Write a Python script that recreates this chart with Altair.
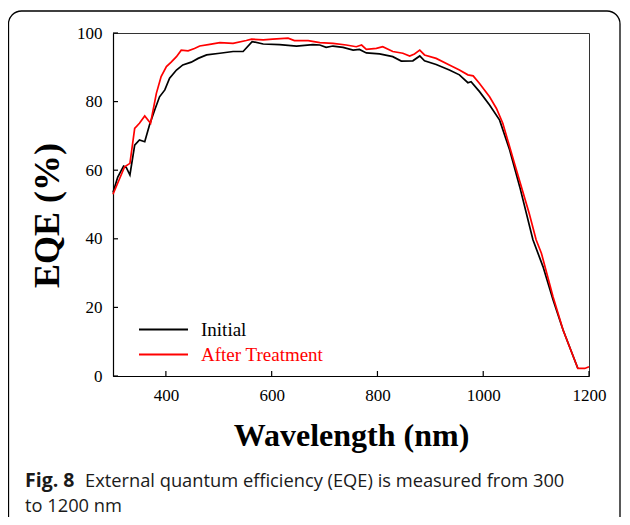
import altair as alt
import pandas as pd

# ---- data ----
wl_initial = [300, 309, 320, 325, 332, 341, 350, 360, 369, 379, 388, 398, 407, 420, 432, 448,
              461, 477, 502, 527, 546, 563, 584, 615, 647, 678, 691, 703, 716, 735, 754, 766,
              779, 804, 829, 845, 867, 880, 889, 911, 936, 955, 971, 977, 993, 1012, 1031,
              1050, 1069, 1094, 1113, 1132, 1151, 1179]
eqe_initial = [53.5, 58.0, 61.2, 60.8, 58.6, 67.3, 68.8, 68.3, 73.2, 77.6, 81.4, 83.4, 86.8,
               89.2, 90.7, 91.5, 92.6, 93.6, 94.1, 94.6, 94.6, 97.5, 96.8, 96.6, 96.2, 96.6,
               96.5, 95.8, 96.2, 95.8, 95.0, 95.2, 94.2, 93.9, 93.1, 91.8, 91.9, 93.3, 91.9,
               90.8, 89.2, 87.8, 85.5, 85.8, 82.9, 79.0, 74.6, 65.9, 55.2, 39.7, 31.9, 22.2,
               13.4, 2.2]

wl_after = [300, 322, 332, 341, 350, 360, 371, 382, 391, 401, 410, 420, 429, 442, 454, 464,
            483, 502, 527, 552, 562, 584, 602, 631, 643, 669, 691, 716, 741, 760, 770, 779,
            798, 810, 829, 848, 861, 870, 880, 889, 911, 936, 955, 971, 981, 993, 1012, 1025,
            1037, 1059, 1087, 1100, 1110, 1132, 1151, 1179, 1192, 1200]
eqe_after = [53.0, 61.0, 62.0, 72.2, 73.7, 75.8, 73.7, 82.4, 87.3, 90.2, 91.5, 93.1, 95.0,
             94.8, 95.5, 96.2, 96.7, 97.2, 97.0, 97.8, 98.2, 98.0, 98.2, 98.5, 97.8, 97.8,
             97.2, 97.0, 96.5, 96.0, 96.5, 95.2, 95.5, 96.0, 94.6, 94.1, 93.3, 93.9, 95.0,
             93.6, 92.6, 90.7, 89.2, 87.8, 87.5, 85.3, 81.4, 78.0, 73.7, 62.0, 47.4, 39.7,
             35.8, 23.1, 13.4, 2.2, 2.2, 2.7]

series_names = ["Initial", "After Treatment"]
series_colors = ["#000000", "#ff0000"]
x_ticks = [400, 600, 800, 1000, 1200]
y_ticks = [0, 20, 40, 60, 80, 100]
caption_bold = "Fig. 8"
caption_rest = "External quantum efficiency (EQE) is measured from 300"
caption_line2 = "to 1200 nm"

df = pd.concat([
    pd.DataFrame({"wl": wl_initial, "eqe": eqe_initial, "series": series_names[0], "k": 0}),
    pd.DataFrame({"wl": wl_after, "eqe": eqe_after, "series": series_names[1], "k": 1}),
])
xt_df = pd.DataFrame({"xt": x_ticks})
yt_df = pd.DataFrame({"yt": y_ticks})
one_df = pd.DataFrame({"k": [0]})

W, H = 476, 343
SERIF = "Liberation Serif"
CAPFONT = "Open Sans"
CAPSIZE = 18.3

xscale = alt.Scale(domain=[300, 1200], nice=False, zero=False)
yscale = alt.Scale(domain=[0, 100], nice=False)

lines = alt.Chart(df).mark_line(strokeWidth=1.7).encode(
    x=alt.X("wl:Q", scale=xscale,
            axis=alt.Axis(values=x_ticks, format="d", title="Wavelength (nm)", ticks=False,
                          labelFlush=False, labelPadding=11, titlePadding=17, grid=False,
                          titleFontSize=32,
                          domainColor="#000000", domainWidth=1.2)),
    y=alt.Y("eqe:Q", scale=yscale,
            axis=alt.Axis(values=y_ticks, format="d", title="EQE (%)", ticks=False,
                          labelPadding=11, grid=False, domainColor="#000000",
                          domainWidth=1.2, titleX=-66, titleY=182, titleFontSize=36,
                          titleBaseline="middle", titleAlign="center")),
    color=alt.Color("series:N",
                    scale=alt.Scale(domain=series_names, range=series_colors),
                    legend=alt.Legend(title=None, orient="none", legendX=37, legendY=283,
                                      symbolType="M-2,0H2", symbolSize=600,
                                      symbolStrokeWidth=2, labelFont=SERIF,
                                      labelFontSize=19, labelOffset=24, padding=0,
                                      rowPadding=1,
                                      labelColor={"expr": "datum.label == 'After Treatment' ? '#ff0000' : '#000000'"})),
    order="k:Q",
)

# inward tick marks, placed through the shared scales
xticks_layer = alt.Chart(xt_df).mark_rule(color="#000000", strokeWidth=1.2).encode(
    x=alt.X("xt:Q", scale=xscale),
    y=alt.value(H), y2=alt.value(H - 5),
)
yticks_layer = alt.Chart(yt_df).mark_rule(color="#000000", strokeWidth=1.2).encode(
    y=alt.Y("yt:Q", scale=yscale),
    x=alt.value(0), x2=alt.value(5),
)

border = alt.Chart(one_df).mark_rect(filled=False, stroke="#000000", strokeWidth=1.3,
                                     cornerRadius=13).encode(
    x=alt.value(-104.5), x2=alt.value(507), y=alt.value(-22), y2=alt.value(505)
)

cap1 = alt.Chart(one_df).mark_text(text=caption_bold, font=CAPFONT, fontWeight="bold",
                                   fontSize=19.5, align="left", baseline="alphabetic",
                                   color="#1a1a1a").encode(
    x=alt.value(-88), y=alt.value(454)
)

cap2 = alt.Chart(one_df).mark_text(text=caption_rest, font=CAPFONT, fontSize=CAPSIZE,
                                   align="left", baseline="alphabetic",
                                   color="#1a1a1a").encode(
    x=alt.value(-28), y=alt.value(454)
)

cap3 = alt.Chart(one_df).mark_text(text=caption_line2, font=CAPFONT, fontSize=CAPSIZE,
                                   align="left", baseline="alphabetic",
                                   color="#1a1a1a").encode(
    x=alt.value(-88), y=alt.value(479)
)

chart = alt.layer(lines, xticks_layer, yticks_layer, border, cap1, cap2, cap3).properties(
    width=W, height=H,
    autosize=alt.AutoSizeParams(type="none"),
    padding={"left": 105, "top": 25, "right": 33, "bottom": 141},
    background="white",
).configure_view(
    stroke="#333333", strokeWidth=1
).configure_axis(
    labelFont=SERIF, labelFontSize=17, labelColor="#000000",
    titleFont=SERIF, titleFontSize=30, titleFontWeight="bold", titleColor="#000000",
)

chart.save("out.html", embed_options={"renderer": "svg", "actions": False})
